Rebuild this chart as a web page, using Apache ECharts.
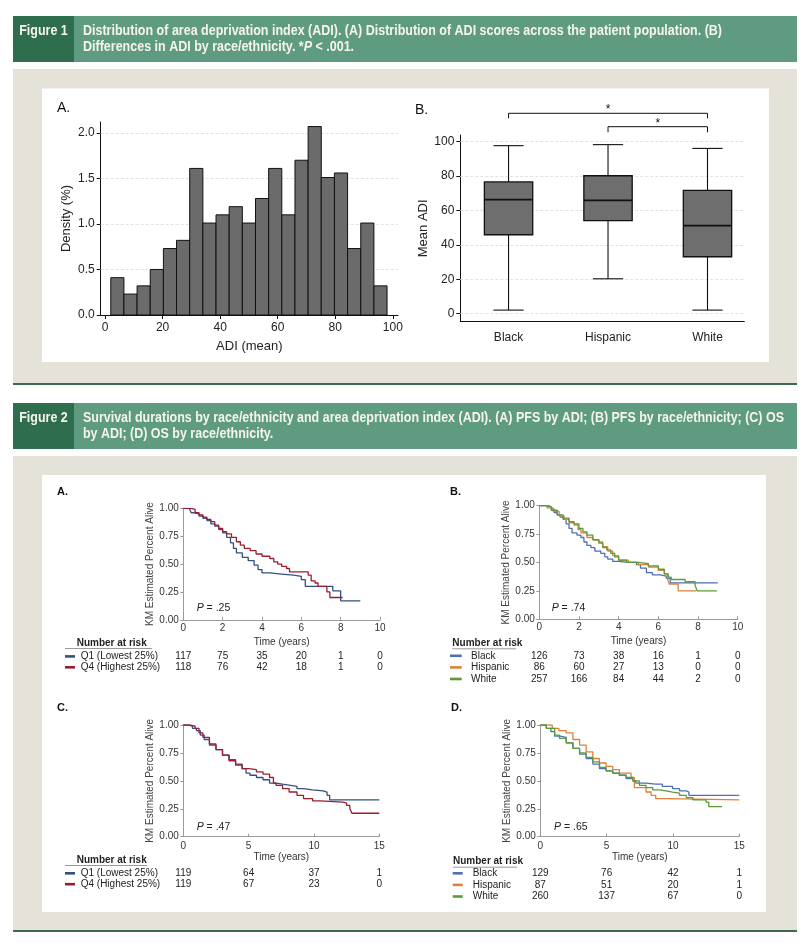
<!DOCTYPE html>
<html>
<head>
<meta charset="utf-8">
<script src="https://cdn.jsdelivr.net/npm/echarts@6/dist/echarts.min.js"></script>
<style>
html,body{margin:0;padding:0;background:#fff;}
#main{width:808px;height:952px;}
</style>
</head>
<body>
<div id="main"></div>
<script>
// ---------------- DATA ----------------
// Figure 1A histogram
const histMin = 2, histMax = 98;
const histDensity = [0.41,0.23,0.32,0.50,0.73,0.82,1.61,1.01,1.10,1.19,1.01,1.28,1.61,1.10,1.70,2.07,1.51,1.56,0.73,1.01,0.32];
const histXTicks = [0,20,40,60,80,100];
const histYTicks = [0,0.5,1.0,1.5,2.0];

// Figure 1B box plot
const boxCats = ['Black','Hispanic','White'];
const boxMin = [2.1,20.3,2.1];
const boxQ1  = [45.9,54.1,33.1];
const boxMed = [66.3,65.9,51.2];
const boxQ3  = [76.6,80.2,71.7];
const boxMax = [97.7,98.3,96.1];
const boxYTicks = [0,20,40,60,80,100];
const sigPairs = [['Black','White'],['Hispanic','White']];

// Figure 2 KM curves [time (years), survival]
const kmA_Q1 = [[0,1],[0.3,0.99],[0.4,0.96],[0.55,0.95],[0.8,0.93],[1.0,0.91],[1.2,0.89],[1.4,0.86],[1.6,0.84],[1.8,0.81],[2.0,0.78],[2.2,0.74],[2.4,0.69],[2.55,0.64],[2.7,0.60],[3.0,0.56],[3.3,0.53],[3.6,0.49],[3.8,0.45],[4.0,0.42],[4.4,0.41],[5.0,0.40],[5.6,0.39],[6.0,0.36],[6.2,0.30],[7.6,0.26],[8.0,0.17],[9.0,0.17]];
const kmA_Q4 = [[0,1],[0.4,0.99],[0.6,0.96],[0.8,0.94],[1.0,0.92],[1.2,0.90],[1.4,0.88],[1.6,0.85],[1.8,0.82],[2.0,0.79],[2.2,0.77],[2.45,0.74],[2.7,0.70],[2.9,0.67],[3.1,0.64],[3.4,0.62],[3.7,0.59],[4.0,0.57],[4.4,0.55],[4.6,0.52],[4.8,0.50],[5.0,0.48],[5.25,0.46],[5.4,0.43],[6.2,0.43],[6.35,0.40],[6.5,0.35],[6.7,0.33],[6.85,0.30],[7.3,0.25],[7.45,0.20],[8.1,0.20]];
const kmB_Black = [[0,1],[0.45,0.99],[0.6,0.97],[0.75,0.94],[0.9,0.92],[1.05,0.90],[1.2,0.88],[1.35,0.84],[1.5,0.80],[1.65,0.76],[1.9,0.74],[2.1,0.72],[2.25,0.68],[2.4,0.65],[2.6,0.63],[2.8,0.60],[3.1,0.58],[3.3,0.55],[3.45,0.53],[3.7,0.51],[4.0,0.50],[4.5,0.50],[4.9,0.48],[5.1,0.45],[5.4,0.41],[5.7,0.39],[6.1,0.38],[6.4,0.36],[6.6,0.32],[9.0,0.32]];
const kmB_Hispanic = [[0,1],[0.4,0.98],[0.7,0.95],[1.0,0.91],[1.25,0.88],[1.5,0.85],[1.75,0.83],[1.95,0.79],[2.1,0.76],[2.4,0.72],[2.7,0.70],[3.0,0.68],[3.2,0.64],[3.45,0.60],[3.7,0.56],[4.0,0.52],[4.5,0.50],[5.0,0.48],[5.5,0.46],[6.0,0.43],[6.3,0.40],[6.45,0.36],[6.55,0.31],[7.0,0.25],[7.9,0.25]];
const kmB_White = [[0,1],[0.3,0.99],[0.6,0.96],[0.9,0.92],[1.2,0.89],[1.5,0.86],[1.75,0.84],[2.0,0.80],[2.2,0.77],[2.4,0.74],[2.7,0.70],[3.0,0.67],[3.2,0.63],[3.4,0.61],[3.6,0.58],[3.8,0.55],[4.0,0.52],[4.4,0.50],[5.0,0.49],[5.5,0.47],[6.0,0.44],[6.3,0.40],[6.5,0.37],[6.65,0.35],[7.1,0.35],[7.35,0.33],[7.85,0.30],[7.95,0.25],[8.95,0.25]];
const kmC_Q1 = [[0,1],[0.4,0.99],[0.7,0.97],[1.0,0.95],[1.3,0.91],[1.6,0.87],[2.0,0.82],[2.5,0.78],[3.0,0.73],[3.5,0.69],[4.0,0.65],[4.5,0.61],[4.8,0.57],[5.1,0.55],[5.6,0.53],[6.1,0.51],[6.6,0.48],[7.1,0.47],[7.6,0.46],[8.2,0.45],[8.7,0.43],[9.2,0.42],[9.9,0.41],[10.7,0.40],[11.0,0.37],[11.2,0.33],[15,0.33]];
const kmC_Q4 = [[0,1],[0.5,0.99],[0.9,0.97],[1.2,0.93],[1.5,0.89],[2.0,0.83],[2.5,0.78],[3.0,0.73],[3.5,0.68],[4.0,0.64],[4.5,0.61],[5.0,0.60],[5.6,0.58],[6.1,0.56],[6.6,0.53],[6.9,0.48],[7.1,0.46],[7.6,0.43],[8.1,0.40],[8.7,0.37],[9.2,0.34],[9.9,0.32],[10.5,0.31],[12.2,0.30],[12.5,0.28],[12.75,0.25],[12.9,0.21],[15,0.21]];
const kmD_Black = [[0,1],[0.45,0.97],[0.8,0.94],[1.08,0.90],[1.5,0.89],[1.95,0.84],[2.46,0.79],[2.96,0.74],[3.46,0.70],[3.96,0.65],[4.46,0.61],[4.96,0.59],[5.46,0.57],[5.96,0.55],[6.47,0.52],[6.97,0.50],[7.2,0.48],[7.97,0.47],[8.7,0.47],[9.2,0.45],[9.97,0.43],[10.5,0.41],[11.0,0.40],[11.2,0.37],[15,0.37]];
const kmD_Hispanic = [[0,1],[0.7,1.0],[0.9,0.97],[1.4,0.95],[1.95,0.93],[2.46,0.87],[2.96,0.82],[3.46,0.76],[3.96,0.70],[4.46,0.66],[4.96,0.63],[5.46,0.60],[5.96,0.57],[6.84,0.53],[7.09,0.44],[7.72,0.44],[7.97,0.40],[8.35,0.37],[8.7,0.34],[9.7,0.33],[15,0.33]];
const kmD_White = [[0,1],[0.45,0.97],[1.08,0.91],[1.45,0.88],[1.95,0.84],[2.46,0.79],[2.96,0.75],[3.46,0.71],[3.96,0.67],[4.46,0.62],[4.96,0.59],[5.46,0.57],[5.96,0.55],[6.47,0.53],[6.97,0.50],[7.47,0.46],[7.97,0.44],[8.47,0.42],[8.97,0.41],[9.47,0.40],[9.97,0.39],[10.5,0.37],[11.0,0.35],[11.5,0.33],[12.2,0.33],[12.5,0.31],[12.7,0.27],[13.7,0.27]];

const adiGroups = ['Q1 (Lowest 25%)','Q4 (Highest 25%)'];
const raceGroups = ['Black','Hispanic','White'];
const timesPFS = [0,2,4,6,8,10];
const timesOS = [0,5,10,15];
const riskA = [[117,75,35,20,1,0],[118,76,42,18,1,0]];
const riskB = [[126,73,38,16,1,0],[86,60,27,13,0,0],[257,166,84,44,2,0]];
const riskC = [[119,64,37,1],[119,67,23,0]];
const riskD = [[129,76,42,1],[87,51,20,1],[260,137,67,0]];
const pValues = ['.25','.74','.47','.65'];

const header1 = ['Distribution of area deprivation index (ADI). (A) Distribution of ADI scores across the patient population. (B)',
                 'Differences in ADI by race/ethnicity. '];
const header2 = ['Survival durations by race/ethnicity and area deprivation index (ADI). (A) PFS by ADI; (B) PFS by race/ethnicity; (C) OS',
                 'by ADI; (D) OS by race/ethnicity.'];

// ---------------- STYLE / LAYOUT ----------------
const FONT = '"Liberation Sans", Arial, Helvetica, sans-serif';
const HFONT = '"Liberation Sans", Arial, sans-serif';
const HSIZE = 15;
const adiColors = ['#34507f','#9b1d2f'];
const raceColors = ['#4f6fb3','#e0803b','#5b9b3a'];
const L = {
  hist:{left:100.7, top:122, width:297.3, height:193},
  box:{left:460.3, top:135, width:284, height:186.7},
  A:{left:183.3, top:508.3, width:196.7, height:111.5},
  B:{left:539.3, top:505.7, width:198.4, height:113.5},
  C:{left:183.3, top:725, width:196, height:111.7},
  D:{left:540.3, top:725, width:199, height:111.7}
};

function fitScale(text, font, target){
  const c = document.createElement('canvas').getContext('2d');
  c.font = font;
  return target / c.measureText(text).width;
}
const HF = 'bold ' + HSIZE + 'px ' + HFONT;
const s1 = fitScale(header1[0], HF, 639);
const s2 = fitScale(header2[0], HF, 701);

function txt(x, y, text, opt){
  opt = opt || {};
  return Object.assign({
    type:'text', x:x, y:y, z:opt.z || 20,
    style:{text:text, x:0, y:0, fill:opt.fill || '#222', fontSize:opt.size || 10, fontFamily:opt.family || FONT,
      fontWeight:opt.weight || 'normal', fontStyle:opt.style || 'normal',
      align:opt.align || 'left', textAlign:opt.align || 'left', verticalAlign:'middle', textVerticalAlign:'middle',
      rich:opt.rich}
  }, opt.extra || {});
}
function rect(x,y,w,h,fill,z){ return {type:'rect', z:z, shape:{x:x,y:y,width:w,height:h}, style:{fill:fill}, silent:true}; }
function hline(x1,x2,y,color,w,z){ return {type:'line', z:z||20, shape:{x1:x1,y1:y,x2:x2,y2:y}, style:{stroke:color,lineWidth:w}, silent:true}; }

const graphics = [];
// backgrounds
graphics.push(rect(13,69,784,314,'#e5e2d9',-100));
graphics.push(rect(42,88.5,727,273.5,'#ffffff',-99));
graphics.push(hline(13,797,384,'#3b6a50',2,-98));
graphics.push(rect(13,456,784,474,'#e5e2d9',-100));
graphics.push(rect(42,475,724,437,'#ffffff',-99));
graphics.push(hline(13,797,931,'#3b6a50',2,-98));
// headers
const hRich = {i:{fontStyle:'italic', fontWeight:'bold', fontSize:HSIZE, fontFamily:HFONT, fill:'#f6f5ec'}};
function header(y0, label, lines, sc){
  graphics.push(rect(13,y0,784,46,'#5f9b81',-90));
  graphics.push(rect(13,y0,61,46,'#2f6d4f',-89));
  const common = {fill:'#f6f5ec', size:HSIZE, weight:'bold', family:HFONT, rich:hRich};
  graphics.push(txt(43.5, y0+14.5, label, Object.assign({align:'center', extra:{scaleX:sc}}, common)));
  graphics.push(txt(83, y0+14.5, lines[0], Object.assign({extra:{scaleX:sc}}, common)));
  graphics.push(txt(83, y0+30.5, lines[1], Object.assign({extra:{scaleX:sc}}, common)));
}
header(16, 'Figure 1', [header1[0], header1[1] + '*{i|P} < .001.'], s1);
header(403, 'Figure 2', header2, s2);

// panel letters
graphics.push(txt(57,108,'A.',{size:14, fill:'#111'}));
graphics.push(txt(415,110,'B.',{size:14, fill:'#111'}));
graphics.push(txt(57,492,'A.',{size:11, weight:'bold', fill:'#111'}));
graphics.push(txt(450,492,'B.',{size:11, weight:'bold', fill:'#111'}));
graphics.push(txt(57,707.5,'C.',{size:11, weight:'bold', fill:'#111'}));
graphics.push(txt(451,708,'D.',{size:11, weight:'bold', fill:'#111'}));

// P values
const pPos = [[196.7,608],[551.7,608.3],[196.7,826.7],[554,826.7]];
pValues.forEach((p,k)=>{
  graphics.push(txt(pPos[k][0], pPos[k][1], '{i|P} = ' + p, {size:10.5, fill:'#222',
    rich:{i:{fontStyle:'italic', fontSize:10.5, fontFamily:FONT, fill:'#222'}}}));
});

// risk table legends
const riskOffsets2 = [36.6, 47.5];
const riskOffsets3 = [36.6, 48.2, 59.8];
function riskLegend(g, groups, colors, headX, headY, ulX1, ulX2, dashX1, dashX2, labX, offsets){
  const base = g.top + g.height;
  graphics.push(txt(headX, headY, 'Number at risk', {size:10, weight:'bold', fill:'#222'}));
  graphics.push(hline(ulX1, ulX2, headY+5.5, '#9a9a9a', 1));
  groups.forEach((name,k)=>{
    const y = base + offsets[k];
    graphics.push(hline(dashX1, dashX2, y, colors[k], 2.6));
    graphics.push(txt(labX, y, name, {size:10, fill:'#222'}));
  });
}
riskLegend(L.A, adiGroups, adiColors, 76.7, 643, 65, 152, 65, 75, 80.7, riskOffsets2);
riskLegend(L.B, raceGroups, raceColors, 452.3, 643.3, 452.3, 516, 450, 461.7, 471, riskOffsets3);
riskLegend(L.C, adiGroups, adiColors, 76.7, 860, 65, 147, 65, 75, 80.7, riskOffsets2);
riskLegend(L.D, raceGroups, raceColors, 453, 861.7, 453, 517, 452.7, 462.7, 472.7, riskOffsets3);

// ---------------- AXES ----------------
const axisText = {color:'#222', fontFamily:FONT};
const grids = [L.hist, L.box, L.A, L.B, L.C, L.D];

const xAxes = [
  {gridIndex:0, type:'value', min:-1.5, max:101.8,
   axisLine:{onZero:false, lineStyle:{color:'#111', width:1}},
   axisTick:{customValues:histXTicks, length:4, lineStyle:{color:'#111'}},
   axisLabel:Object.assign({customValues:histXTicks, fontSize:12, margin:7}, axisText),
   splitLine:{show:false},
   name:'ADI (mean)', nameLocation:'middle', nameGap:25, nameTextStyle:Object.assign({fontSize:13}, axisText)},
  {gridIndex:1, type:'value', min:0.515, max:3.37,
   axisLine:{onZero:false, lineStyle:{color:'#111', width:1}},
   axisTick:{show:false},
   axisLabel:Object.assign({customValues:[1,2,3], fontSize:12, margin:10, formatter:v=>boxCats[Math.round(v)-1]}, axisText),
   splitLine:{show:false}}
];
const yAxes = [
  {gridIndex:0, type:'value', min:0, max:2.12,
   axisLine:{show:true, onZero:false, lineStyle:{color:'#111', width:1}},
   axisTick:{show:true, customValues:histYTicks, length:4, lineStyle:{color:'#111'}},
   axisLabel:Object.assign({customValues:histYTicks, fontSize:12, margin:6, formatter:v=>v.toFixed(1)}, axisText),
   splitLine:{show:false},
   name:'Density (%)', nameLocation:'middle', nameGap:27.5, nameRotate:90, nameTextStyle:Object.assign({fontSize:13}, axisText)},
  {gridIndex:1, type:'value', min:-4.65, max:103.9,
   axisLine:{show:true, onZero:false, lineStyle:{color:'#111', width:1}},
   axisTick:{show:true, customValues:boxYTicks, length:4, lineStyle:{color:'#111'}},
   axisLabel:Object.assign({customValues:boxYTicks, fontSize:12, margin:6}, axisText),
   splitLine:{show:false},
   name:'Mean ADI', nameLocation:'middle', nameGap:26, nameRotate:90, nameTextStyle:Object.assign({fontSize:13}, axisText)}
];
const kmPanels = [
  {max:10, interval:2, nameGap:17, labMargin:3.5},
  {max:10, interval:2, nameGap:17, labMargin:3.5},
  {max:15, interval:5, nameGap:15.5, labMargin:5},
  {max:15, interval:5, nameGap:15.5, labMargin:5}
];
kmPanels.forEach((p,k)=>{
  const gi = k+2;
  xAxes.push({gridIndex:gi, type:'value', min:0, max:p.max, interval:p.interval,
    axisLine:{onZero:false, lineStyle:{color:'#9a9a9a', width:1}},
    axisTick:{inside:true, length:3, lineStyle:{color:'#9a9a9a'}},
    axisLabel:{fontSize:10, color:'#333', fontFamily:FONT, margin:p.labMargin},
    splitLine:{show:false},
    name:'Time (years)', nameLocation:'middle', nameGap:p.nameGap, nameTextStyle:{fontSize:10, color:'#333', fontFamily:FONT}});
  yAxes.push({gridIndex:gi, type:'value', min:0, max:1, interval:0.25,
    axisLine:{show:true, onZero:false, lineStyle:{color:'#9a9a9a', width:1}},
    axisTick:{show:true, length:3, lineStyle:{color:'#9a9a9a'}},
    axisLabel:{fontSize:10, color:'#333', fontFamily:FONT, margin:4.5, formatter:v=>v.toFixed(2)},
    splitLine:{show:false},
    name:'KM Estimated Percent Alive', nameLocation:'middle', nameGap:27, nameRotate:90,
    nameTextStyle:{fontSize:10, color:'#444', fontFamily:FONT}});
});

// ---------------- SERIES ----------------
const series = [];
const gridLineStyle = {color:'#e2e2e2', width:1, type:[3,2]};
series.push({type:'line', xAxisIndex:0, yAxisIndex:0, data:[], z:1, silent:true,
  markLine:{z:1, silent:true, symbol:'none', label:{show:false}, lineStyle:gridLineStyle, animation:false,
    data:histYTicks.filter(v=>v>0).map(v=>({yAxis:v}))}});
const binW = (histMax - histMin) / histDensity.length;
series.push({type:'custom', xAxisIndex:0, yAxisIndex:0, z:6,
  data: histDensity.map((d,k)=>[histMin + k*binW, histMin + (k+1)*binW, d]),
  encode:{x:[0,1], y:2},
  renderItem:function(params, api){
    const p0 = api.coord([api.value(0), api.value(2)]);
    const p1 = api.coord([api.value(1), 0]);
    return {type:'rect', shape:{x:p0[0], y:p0[1], width:p1[0]-p0[0], height:p1[1]-p0[1]},
      style:{fill:'#6b6b6b', stroke:'#111', lineWidth:1}};
  }});
series.push({type:'line', xAxisIndex:1, yAxisIndex:1, data:[], z:1, silent:true,
  markLine:{z:1, silent:true, symbol:'none', label:{show:false}, lineStyle:gridLineStyle, animation:false,
    data:boxYTicks.map(v=>({yAxis:v}))}});
series.push({type:'custom', xAxisIndex:1, yAxisIndex:1, z:6,
  data: boxCats.map((c,k)=>[k+1, boxMin[k], boxQ1[k], boxMed[k], boxQ3[k], boxMax[k]]),
  encode:{x:0, y:[1,2,3,4,5]},
  renderItem:function(params, api){
    const i = api.value(0), hw = 0.243, cw = 0.152;
    const cx = api.coord([i,0])[0];
    const bl = api.coord([i-hw,0])[0], br = api.coord([i+hw,0])[0];
    const cl = api.coord([i-cw,0])[0], cr = api.coord([i+cw,0])[0];
    const yMin = api.coord([i,api.value(1)])[1], yQ1 = api.coord([i,api.value(2)])[1];
    const yMed = api.coord([i,api.value(3)])[1], yQ3 = api.coord([i,api.value(4)])[1];
    const yMax = api.coord([i,api.value(5)])[1];
    const st = {stroke:'#111', lineWidth:1.1};
    return {type:'group', children:[
      {type:'line', shape:{x1:cx,y1:yMax,x2:cx,y2:yQ3}, style:st},
      {type:'line', shape:{x1:cx,y1:yQ1,x2:cx,y2:yMin}, style:st},
      {type:'line', shape:{x1:cl,y1:yMax,x2:cr,y2:yMax}, style:st},
      {type:'line', shape:{x1:cl,y1:yMin,x2:cr,y2:yMin}, style:st},
      {type:'rect', shape:{x:bl,y:yQ3,width:br-bl,height:yQ1-yQ3}, style:{fill:'#6e6e6e', stroke:'#111', lineWidth:1.3}},
      {type:'line', shape:{x1:bl,y1:yMed,x2:br,y2:yMed}, style:{stroke:'#111', lineWidth:1.7}}
    ]};
  }});
// significance brackets
const bracketLevels = [{top:21.7, drop:16.7, star:28}, {top:8.3, drop:2.7, star:14}];
series.push({type:'custom', xAxisIndex:1, yAxisIndex:1, z:6, clip:false, silent:true,
  data: sigPairs.map((p,k)=>[boxCats.indexOf(p[0])+1, boxCats.indexOf(p[1])+1, k]),
  encode:{x:[0,1]},
  renderItem:function(params, api){
    const lv = bracketLevels[api.value(2)];
    const gTop = params.coordSys.y;
    const x1 = api.coord([api.value(0),0])[0], x2 = api.coord([api.value(1),0])[0];
    const yT = gTop - lv.top, yD = gTop - lv.drop;
    const st = {stroke:'#111', lineWidth:1};
    return {type:'group', children:[
      {type:'polyline', shape:{points:[[x1,yD],[x1,yT],[x2,yT],[x2,yD]]}, style:Object.assign({fill:null}, st)},
      {type:'text', style:{text:'*', x:(x1+x2)/2, y:gTop - lv.star + 3, fontSize:12, fontFamily:FONT, fill:'#111',
        align:'center', verticalAlign:'middle', textAlign:'center', textVerticalAlign:'middle'}}
    ]};
  }});

// KM curves
function km(idx, data, color){
  series.push({type:'line', xAxisIndex:idx, yAxisIndex:idx, data:data, step:'end', showSymbol:false,
    symbol:'none', silent:true, z:4, lineStyle:{color:color, width:1.3}, itemStyle:{color:color}});
}
km(2, kmA_Q1, adiColors[0]); km(2, kmA_Q4, adiColors[1]);
km(3, kmB_Black, raceColors[0]); km(3, kmB_Hispanic, raceColors[1]); km(3, kmB_White, raceColors[2]);
km(4, kmC_Q1, adiColors[0]); km(4, kmC_Q4, adiColors[1]);
km(5, kmD_Black, raceColors[0]); km(5, kmD_Hispanic, raceColors[1]); km(5, kmD_White, raceColors[2]);

// risk tables numbers
function risk(idx, times, counts, offsets){
  const data = [];
  counts.forEach((row,r)=>row.forEach((c,k)=>data.push([times[k], r, c])));
  series.push({type:'custom', xAxisIndex:idx, yAxisIndex:idx, clip:false, silent:true, z:4,
    data:data, encode:{x:0},
    renderItem:function(params, api){
      const x = api.coord([api.value(0),0])[0];
      const base = api.coord([0,0])[1];
      return {type:'text', style:{text:String(api.value(2)), x:x, y:base + offsets[api.value(1)],
        fontSize:10, fontFamily:FONT, fill:'#222', align:'center', verticalAlign:'middle',
        textAlign:'center', textVerticalAlign:'middle'}};
    }});
}
risk(2, timesPFS, riskA, riskOffsets2);
risk(3, timesPFS, riskB, riskOffsets3);
risk(4, timesOS, riskC, riskOffsets2);
risk(5, timesOS, riskD, riskOffsets3);

const chart = echarts.init(document.getElementById('main'), null, {renderer:'canvas'});
chart.setOption({
  animation:false,
  backgroundColor:'#ffffff',
  grid: grids.map(g=>({left:g.left, top:g.top, width:g.width, height:g.height, containLabel:false})),
  xAxis:xAxes,
  yAxis:yAxes,
  series:series,
  graphic:{elements:graphics}
});
</script>
</body>
</html>
